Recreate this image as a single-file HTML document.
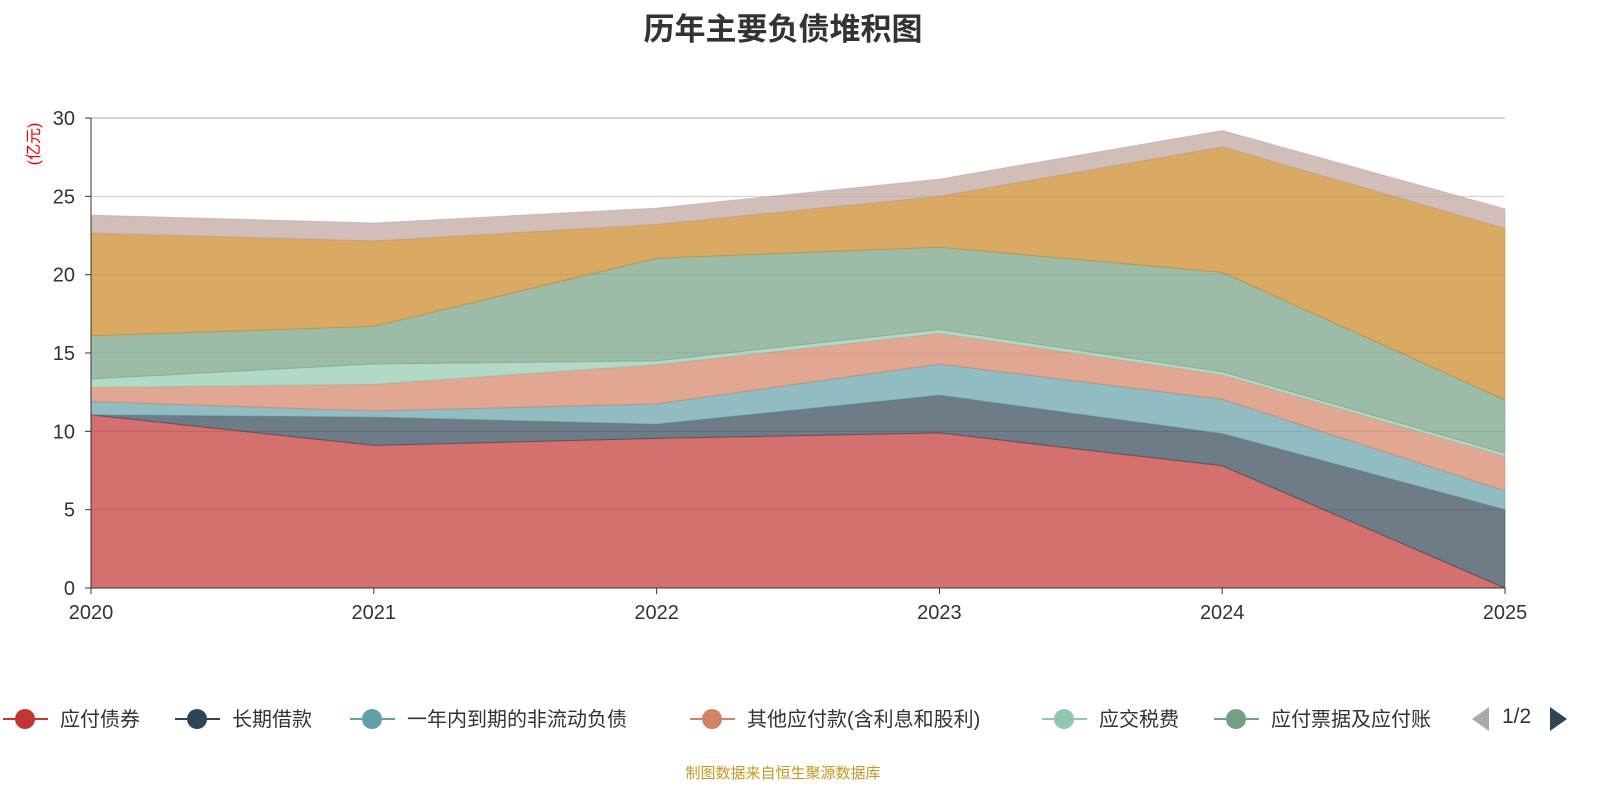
<!DOCTYPE html>
<html><head><meta charset="utf-8"><style>
body{margin:0;width:1600px;height:800px;background:#fff;overflow:hidden;font-family:"Liberation Sans","Noto Sans CJK SC",sans-serif}
</style></head><body>
<svg id="c" width="1600" height="800" xmlns="http://www.w3.org/2000/svg"></svg>
<script>
const years=["2020","2021","2022","2023","2024","2025"];
const seriesNames=["应付债券","长期借款","一年内到期的非流动负债","其他应付款(含利息和股利)","应交税费","应付票据及应付账款","合同负债","其他"];
const s1=[11.05,9.1,9.55,9.9,7.8,0];
const s2=[0,1.8,0.9,2.4,2.05,5.0];
const s3=[0.85,0.4,1.3,2.0,2.2,1.2];
const s4=[0.9,1.7,2.5,1.95,1.55,2.2];
const s5=[0.55,1.3,0.25,0.25,0.2,0.2];
const s6=[2.75,2.4,6.55,5.25,6.35,3.4];
const s7=[6.55,5.45,2.15,3.25,8.0,10.95];
const s8=[1.15,1.15,1.05,1.1,1.05,1.25];
const yTicks=[0,5,10,15,20,25,30];
const colors=["#c23531","#2f4554","#61a0a8","#d48265","#91c7ae","#749f83","#ca8622","#bda29a"];
const legendNames=["应付债券","长期借款","一年内到期的非流动负债","其他应付款(含利息和股利)","应交税费","应付票据及应付账"];
const NS="http://www.w3.org/2000/svg";
const svg=document.getElementById('c');
const X0=91,X1=1505,Y0=588,Y1=118;
const xs=i=>X0+(X1-X0)*i/(years.length-1);
const ys=v=>Y0-(Y0-Y1)*v/30;
function mk(t,a,p){const e=document.createElementNS(NS,t);for(const k in a)e.setAttribute(k,a[k]);(p||svg).appendChild(e);return e;}
yTicks.forEach(v=>{
 const l=mk('line',{x1:X0,x2:X1,y1:ys(v),y2:ys(v),stroke:v==30?'#aaa':'#ccc','stroke-width':1});
 
 
 const t=mk('text',{x:X0-16,y:ys(v)+7,'text-anchor':'end','font-size':20,fill:'#333'});
 t.textContent=v;
 
 
 mk('line',{x1:X0-6,x2:X0,y1:ys(v),y2:ys(v),stroke:'#333'});
});
const all=[s1,s2,s3,s4,s5,s6,s7,s8];
let base=years.map(()=>0);
all.forEach((s,k)=>{
 const top=base.map((b,i)=>b+s[i]);
 let d='M'+years.map((_,i)=>xs(i)+','+ys(top[i])).join('L');
 for(let i=years.length-1;i>=0;i--)d+='L'+xs(i)+','+ys(base[i]);
 const p=mk('path',{d:d+'Z',fill:colors[k],'fill-opacity':0.7,stroke:colors[k],'stroke-opacity':0.5,'stroke-width':1});
 
 
 base=top;
});
mk('line',{x1:X0,x2:X0,y1:Y1,y2:Y0,stroke:'#333'});
mk('line',{x1:X0,x2:X1,y1:Y0,y2:Y0,stroke:'#333'});
years.forEach((y,i)=>{
 mk('line',{x1:xs(i),x2:xs(i),y1:Y0,y2:Y0+6,stroke:'#333'});
 const t=mk('text',{x:xs(i),y:Y0+31,'text-anchor':'middle','font-size':20,fill:'#333'});
 t.textContent=y;
 
 
});
const lx=[3,175,350,690,1042,1214];
legendNames.forEach((n,k)=>{
 const g=mk('g',{});
 
 
 mk('line',{x1:lx[k],x2:lx[k]+45,y1:719,y2:719,stroke:colors[k],'stroke-width':2},g);
 mk('circle',{cx:lx[k]+22,cy:719,r:10,fill:colors[k]},g);
 const t=mk('text',{x:lx[k]+57,y:726,'font-size':20,fill:'#333'},g);
 t.textContent=n;
});
</script>
<div style="position:absolute;left:0;width:1566px;top:4px;text-align:center;font-size:31px;font-weight:bold;color:#333">历年主要负债堆积图</div>
<div style="position:absolute;left:2px;top:132px;transform:rotate(-90deg);color:#e00;font-size:16px;width:60px;text-align:center;white-space:nowrap">(亿元)</div>
<div style="position:absolute;left:1472px;top:707px;width:0;height:0;border-top:12px solid transparent;border-bottom:12px solid transparent;border-right:17px solid #aaa"></div>
<div style="position:absolute;left:1502px;top:705px;font-size:21px;color:#333">1/2</div>
<div style="position:absolute;left:1550px;top:707px;width:0;height:0;border-top:12px solid transparent;border-bottom:12px solid transparent;border-left:17px solid #2f4554"></div>
<div style="position:absolute;left:0;width:1566px;top:762px;text-align:center;font-size:15px;color:#c8961e">制图数据来自恒生聚源数据库</div>
</body></html>
